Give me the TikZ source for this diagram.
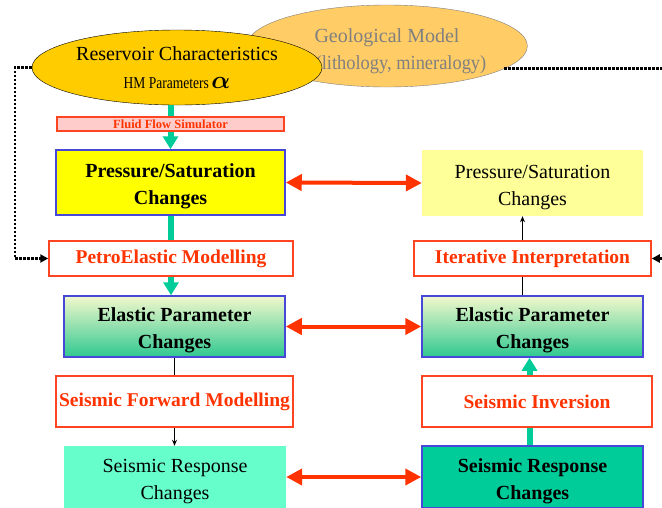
\documentclass[tikz,border=0pt]{standalone}
\usepackage{fontspec}
\setmainfont{Liberation Serif}
\usetikzlibrary{arrows.meta,shapes.geometric}
\definecolor{resgold}{HTML}{FFCC00}
\definecolor{geoorange}{HTML}{FFCC66}
\definecolor{geotext}{HTML}{808080}
\definecolor{boxblue}{HTML}{4848D8}
\definecolor{procred}{HTML}{FF4422}
\definecolor{procpink}{HTML}{FFCCCC}
\definecolor{psyellow}{HTML}{FFFF00}
\definecolor{pslight}{HTML}{FFFF99}
\definecolor{eptop}{HTML}{F2F8CC}
\definecolor{epbot}{HTML}{30C890}
\definecolor{srlight}{HTML}{66FFCC}
\definecolor{srteal}{HTML}{00CC99}
\definecolor{flowgreen}{HTML}{00CC99}
\definecolor{linkred}{HTML}{FF3300}

\begin{document}
\begin{tikzpicture}[
  x=1pt, y=-1pt,
  chg/.style={draw=boxblue, line width=1.5pt, align=center, inner sep=0pt,
    text height=49pt, font=\fontsize{20}{27}\selectfont\bfseries},
  chgplain/.style={align=center, inner sep=0pt, text height=49pt,
    font=\fontsize{20}{27}\selectfont},
  proc/.style={draw=procred, fill=white, line width=1.5pt, align=center, inner sep=0pt,
    text=linkred, font=\fontsize{19.5}{24}\selectfont\bfseries},
  gradfill/.style={top color=eptop, bottom color=epbot},
  greenflow/.style={-{Triangle[length=13pt,width=15pt]}, line width=6pt, flowgreen},
  greenline/.style={line width=6pt, flowgreen},
  thinflow/.style={-{Stealth[length=6pt,width=5pt]}, line width=1pt, black},
  link/.style={{Triangle[length=16pt,width=16pt]}-{Triangle[length=16pt,width=16pt]},
    line width=4pt, linkred},
  loopback/.style={-{Triangle[length=8pt,width=8pt]}, line width=2.8pt, black,
    dash pattern=on 2.5pt off 1.5pt}
]
\useasboundingbox (0,0) rectangle (662,507);
% top: model ellipses
\node[ellipse, draw=geotext, fill=geoorange, text=geotext, align=center, inner sep=0pt,
  minimum width=260, minimum height=82, text height=51pt, font=\fontsize{20}{27}\selectfont]
  (geo) at (387,46) {Geological Model\\\hspace*{28pt}\scalebox{0.92}[1]{(lithology, mineralogy)}};
\node[ellipse, draw=black, fill=resgold, align=center, inner sep=0pt,
  minimum width=290, minimum height=75]
  (resv) at (177,67.5) {{\fontsize{20}{24}\selectfont Reservoir Characteristics}\\[16pt]
  \scalebox{0.82}[1]{\fontsize{16.5}{20}\selectfont HM Parameters}
  {\fontsize{23}{23}\selectfont\boldmath$\alpha$}};
% left column
\node[chg, fill=psyellow, minimum width=229, minimum height=65] (psL) at (170.5,182.5)
  {Pressure/Saturation\\Changes};
\draw[greenflow] (resv.south -| psL.north) -- (psL.north);
\node[draw=procred, fill=procpink, line width=1.5pt, text=linkred, inner sep=0pt,
  minimum width=227, minimum height=14, font=\fontsize{12.5}{14}\selectfont\bfseries]
  (fluid) at (170.5,124) {Fluid Flow Simulator};
\node[proc, minimum width=244, minimum height=35] (peL) at (171,258.5) {PetroElastic Modelling};
\node[chg, gradfill, minimum width=221, minimum height=61] (epL) at (174.5,326.5)
  {Elastic Parameter\\Changes};
\node[proc, minimum width=237, minimum height=51] (sfm) at (174.5,401.5)
  {Seismic Forward Modelling};
\node[chgplain, fill=srlight, minimum width=222, minimum height=62] (srL) at (175,477)
  {Seismic Response\\Changes};
% right column
\node[chgplain, fill=pslight, minimum width=221, minimum height=66] (psR) at (532.5,183)
  {Pressure/Saturation\\Changes};
\node[proc, minimum width=237, minimum height=35] (iiR) at (532.5,258.5)
  {Iterative Interpretation};
\node[chg, gradfill, minimum width=221, minimum height=61] (epR) at (532.5,326.5)
  {Elastic Parameter\\Changes};
\node[proc, minimum width=230, minimum height=51] (siR) at (537,401.5) {Seismic Inversion};
\node[chg, fill=srteal, minimum width=221, minimum height=62] (srR) at (532.5,477)
  {Seismic Response\\Changes};
% vertical links
\draw[greenline] (psL.south) -- (psL.south |- peL.north);
\draw[greenflow] (peL.south) -- (peL.south |- epL.north);
\draw[line width=1pt] (epL.south) -- (epL.south |- sfm.north);
\draw[thinflow] (sfm.south) -- (sfm.south |- srL.north);
\draw[greenline] ([xshift=-3pt]srR.north) -- ([xshift=-3pt]srR.north |- siR.south);
\draw[greenflow] ([xshift=-3pt]srR.north |- siR.north) -- ([xshift=-3pt]epR.south);
\draw[line width=1pt] ([xshift=-10pt]epR.north) -- ([xshift=-10pt]epR.north |- iiR.south);
\draw[thinflow] ([xshift=-10pt]iiR.north) -- ([xshift=-10pt]psR.south);
% comparison arrows
\draw[link] (psL.east) -- (psR.west);
\draw[link] (epL.east) -- (epR.west);
\draw[link] (srL.east) -- (srR.west);
% feedback loops
\coordinate (loopL) at (15,258.5);
\coordinate (loopR) at (668,258.5);
\draw[loopback] (resv.west) -| (loopL) -- (peL.west);
\draw[loopback] (geo.-11) -| (loopR) -- (iiR.east);
\end{tikzpicture}
\end{document}
